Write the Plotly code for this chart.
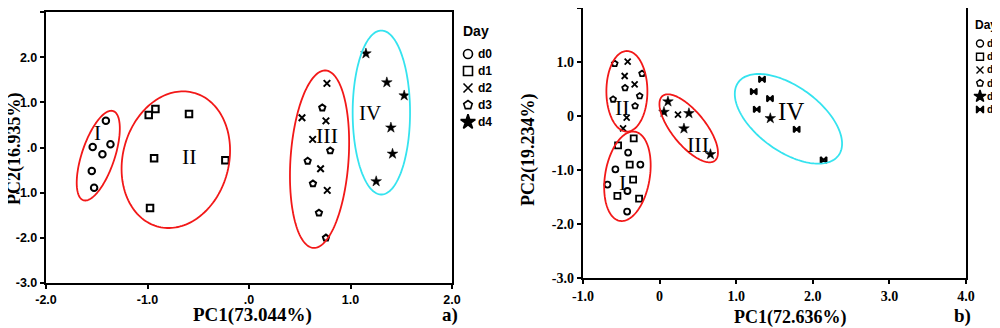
import numpy as np
import plotly.graph_objects as go

# page is rendered with an 8px body margin, so the figure is offset by (8, 8)
PAGE_W, PAGE_H = 1000, 328
OX, OY = 8, 8
W, H = PAGE_W - OX, PAGE_H - OY

# ---------------- Panel a data ----------------
A_D0_X = [-1.41, -1.54, -1.365, -1.444, -1.549, -1.526]
A_D0_Y = [0.59, 0.01, 0.07, -0.15, -0.52, -0.89]
A_D1_X = [-0.988, -0.922, -0.591, -0.935, -0.233, -0.975]
A_D1_Y = [0.72, 0.85, 0.74, -0.24, -0.28, -1.34]
A_D2_X = [0.768, 0.522, 0.758, 0.627, 0.705, 0.771]
A_D2_Y = [1.42, 0.66, 0.59, 0.18, -0.47, -0.95]
A_D3_X = [0.722, 0.80, 0.578, 0.63, 0.689, 0.758]
A_D3_Y = [0.88, -0.07, -0.30, -0.80, -1.45, -2.0]
A_D4_X = [1.152, 1.358, 1.529, 1.398, 1.414, 1.253]
A_D4_Y = [2.08, 1.44, 1.15, 0.44, -0.14, -0.75]

A_XTICKS = [-2, -1, 0, 1, 2]
A_XTICKTEXT = ["-2.0", "-1.0", ".0", "1.0", "2.0"]
A_YTICKS = [-3, -2, -1, 0, 1, 2, 3]
A_YTICKTEXT = ["-3.0", "-2.0", "-1.0", ".0", "1.0", "2.0", "3.0"]

# ---------------- Panel b data ----------------
B_D0_X = [-0.411, -0.251, -0.577, -0.681, -0.42, -0.424]
B_D0_Y = [-0.678, -0.90, -0.987, -1.27, -1.389, -1.77]
B_D1_X = [-0.338, -0.542, -0.39, -0.346, -0.551, -0.268]
B_D1_Y = [-0.413, -0.543, -0.90, -1.178, -1.48, -1.53]
B_D2_X = [-0.417, -0.456, -0.326, -0.43, -0.477, 0.24]
B_D2_Y = [1.007, 0.741, 0.587, -0.03, -0.228, 0.026]
B_D3_X = [-0.586, -0.229, -0.451, -0.607, -0.26, -0.32]
B_D3_Y = [0.97, 0.785, 0.519, 0.309, 0.37, 0.185]
B_D4_X = [0.109, 0.057, 0.383, 0.318, 0.664, 1.445]
B_D4_Y = [0.267, 0.074, 0.05, -0.233, -0.709, -0.043]
B_D5_X = [1.337, 1.229, 1.441, 1.268, 1.789, 2.141]
B_D5_Y = [0.68, 0.452, 0.322, 0.124, -0.246, -0.815]

B_XTICKS = [-1, 0, 1, 2, 3, 4]
B_XTICKTEXT = ["-1.0", "0", "1.0", "2.0", "3.0", "4.0"]
B_YTICKS = [-3, -2, -1, 0, 1, 2]
B_YTICKTEXT = ["-3.0", "-2.0", "-1.0", "0", "1.0", "2.0"]

DAYS_A = ["d0", "d1", "d2", "d3", "d4"]
DAYS_B = ["d0", "d1", "d2", "d3", "d4", "d5"]

# cluster ellipses: (label, cx, cy, semi-major px, semi-minor px, angle deg, colour)
A_CLUSTERS = [("I", -1.485, -0.18, 47.0, 16.4, 71.5, "red"),
              ("II", -0.721, -0.27, 69.3, 53.0, 75.0, "red"),
              ("III", 0.695, -0.259, 88.9, 29.0, 86.0, "red"),
              ("IV", 1.304, 0.774, 82.0, 28.7, 90.0, "cyan")]
A_LABELS = [("I", -1.49, 0.31, 21), ("II", -0.59, -0.21, 22),
            ("III", 0.768, 0.27, 22), ("IV", 1.194, 0.77, 21)]

B_CLUSTERS = [("II", -0.427, 0.457, 40.3, 20.5, 90.0, "red"),
              ("I", -0.42, -1.117, 45.2, 22.3, 80.4, "red"),
              ("III", 0.38, -0.228, 41.6, 16.8, -51.0, "red"),
              ("IV", 1.682, -0.052, 62.0, 32.3, -36.0, "cyan")]
B_LABELS = [("II", -0.49, 0.155, 22), ("I", -0.49, -1.23, 22),
            ("III", 0.50, -0.52, 22), ("IV", 1.715, 0.09, 25)]

RED = "#f21818"
CYAN = "#35e3ef"

# ---------------- layout geometry (page pixels) ----------------
AX_A = dict(x=[46, 452], y=[12, 283], xr=[-2, 2], yr=[-3, 3])
AX_B = dict(x=[583, 966], y=[8, 278], xr=[-1, 4], yr=[-3, 2])


def PX(x):
    return min(1.0, max(0.0, (x - OX) / W))


def PY(y):
    return min(1.0, max(0.0, 1 - (y - OY) / H))


def dom_x(p):
    return [PX(p[0]), PX(p[1])]


def dom_y(p):
    return [PY(p[1]), PY(p[0])]


def scale(ax):
    sx = (ax["x"][1] - ax["x"][0]) / (ax["xr"][1] - ax["xr"][0])
    sy = (ax["y"][1] - ax["y"][0]) / (ax["yr"][1] - ax["yr"][0])
    return sx, sy


def ellipse_path(cx, cy, a, b, ang, sx, sy, n=160):
    t = np.linspace(0, 2 * np.pi, n)
    ph = np.radians(ang)
    u = a * np.cos(t) * np.cos(ph) - b * np.sin(t) * np.sin(ph)
    v = a * np.cos(t) * np.sin(ph) + b * np.sin(t) * np.cos(ph)
    xs = cx + u / sx
    ys = cy + v / sy
    return "M " + " L ".join(f"{x:.4f},{y:.4f}" for x, y in zip(xs, ys)) + " Z"


fig = go.Figure()

SYM = {"d0": "circle-open", "d1": "square-open", "d2": "x-thin-open",
       "d3": "pentagon-open", "d4": "star", "d5": "bowtie"}


def add_series(xs, ys, day, xa, ya, size, lw, star_extra):
    s = size + star_extra if day == "d4" else size
    fig.add_trace(go.Scatter(
        x=xs, y=ys, mode="markers", xaxis=xa, yaxis=ya, showlegend=False,
        name=day,
        marker=dict(symbol=SYM[day], size=s, color="black",
                    line=dict(color="black", width=lw if day != "d4" else 0.5))))


A_SERIES = [(A_D0_X, A_D0_Y, "d0"), (A_D1_X, A_D1_Y, "d1"), (A_D2_X, A_D2_Y, "d2"),
            (A_D3_X, A_D3_Y, "d3"), (A_D4_X, A_D4_Y, "d4")]
B_SERIES = [(B_D0_X, B_D0_Y, "d0"), (B_D1_X, B_D1_Y, "d1"), (B_D2_X, B_D2_Y, "d2"),
            (B_D3_X, B_D3_Y, "d3"), (B_D4_X, B_D4_Y, "d4"), (B_D5_X, B_D5_Y, "d5")]

for xs, ys, d in A_SERIES:
    add_series(xs, ys, d, "x", "y", 6.5, 2, 1.5)
for xs, ys, d in B_SERIES:
    add_series(xs, ys, d, "x2", "y2", 6, 1.8, 2)

# legends (drawn in a transparent pixel overlay axis)
LEG_A = dict(title=(476, 31), sx=468, tx=476, y0=54, dy=17, size=9, lw=1.6, fs=12, tfs=14)
LEG_B = dict(title=(986, 25), sx=980, tx=985, y0=43.5, dy=13.2, size=7, lw=1.4, fs=10, tfs=12)


def add_legend(days, L):
    ys = [L["y0"] + i * L["dy"] for i in range(len(days))]
    for d, yy in zip(days, ys):
        s = L["size"] + (2 if d == "d4" else 0)
        fig.add_trace(go.Scatter(
            x=[L["sx"]], y=[yy], mode="markers", xaxis="x3", yaxis="y3",
            showlegend=False, hoverinfo="skip",
            marker=dict(symbol=SYM[d], size=s, color="black",
                        line=dict(color="black", width=L["lw"]))))
        fig.add_annotation(x=PX(L["tx"]), y=PY(yy), xref="paper", yref="paper",
                           text=f"<b>{d}</b>", showarrow=False, xanchor="left",
                           yanchor="middle",
                           font=dict(family="Liberation Sans", size=L["fs"], color="black"))
    fig.add_annotation(x=PX(L["title"][0]), y=PY(L["title"][1]), xref="paper", yref="paper",
                       text="<b>Day</b>", showarrow=False, xanchor="center", yanchor="middle",
                       font=dict(family="Liberation Sans", size=L["tfs"], color="black"))


add_legend(DAYS_A, LEG_A)
add_legend(DAYS_B, LEG_B)

# ellipses
shapes = []
sxa, sya = scale(AX_A)
for lab, cx, cy, a, b, ang, col in A_CLUSTERS:
    shapes.append(dict(type="path", xref="x", yref="y",
                       path=ellipse_path(cx, cy, a, b, ang, sxa, sya),
                       line=dict(color=RED if col == "red" else CYAN, width=1.8)))
sxb, syb = scale(AX_B)
for lab, cx, cy, a, b, ang, col in B_CLUSTERS:
    shapes.append(dict(type="path", xref="x2", yref="y2",
                       path=ellipse_path(cx, cy, a, b, ang, sxb, syb),
                       line=dict(color=RED if col == "red" else CYAN, width=1.8)))

# cluster labels
for lab, x, y, fs in A_LABELS:
    fig.add_annotation(x=x, y=y, xref="x", yref="y", text=lab, showarrow=False,
                       font=dict(family="Liberation Serif", size=fs, color="black"))
for lab, x, y, fs in B_LABELS:
    fig.add_annotation(x=x, y=y, xref="x2", yref="y2", text=lab, showarrow=False,
                       font=dict(family="Liberation Serif", size=fs, color="black"))

# axis titles and panel letters
TITLES = [("PC1(73.044%)", 252, 315, 0, 19), ("PC2(16.935%)", 14, 149, -90, 18),
          ("PC1(72.636%)", 789.5, 317, 0, 18), ("PC2(19.234%)", 528, 150, -90, 18),
          ("a)", 450, 315, 0, 19), ("b)", 962, 316, 0, 19)]
for txt, px, py, ang, fs in TITLES:
    fig.add_annotation(x=PX(px), y=PY(py), xref="paper", yref="paper",
                       text=f"<b>{txt}</b>", showarrow=False, textangle=ang,
                       xanchor="center", yanchor="middle", borderpad=0,
                       font=dict(family="Liberation Serif", size=fs, color="black"))

common = dict(showline=True, mirror=True, linecolor="black", linewidth=2.4,
              ticks="outside", ticklen=4, tickwidth=2, tickcolor="black",
              showgrid=False, zeroline=False, automargin=False)
fa = dict(family="Liberation Sans", size=12.5, color="black")
fb = dict(family="Liberation Serif", size=14, color="black")

fig.update_layout(
    template="none",
    width=W, height=H, margin=dict(l=0, r=0, t=0, b=0, pad=0, autoexpand=False),
    paper_bgcolor="white", plot_bgcolor="rgba(0,0,0,0)", showlegend=False,
    shapes=shapes,
    xaxis=dict(domain=dom_x(AX_A["x"]), range=AX_A["xr"], anchor="y",
               tickvals=A_XTICKS, ticktext=[f"<b>{t}</b>" for t in A_XTICKTEXT],
               tickfont=fa, **common),
    yaxis=dict(domain=dom_y(AX_A["y"]), range=AX_A["yr"], anchor="x",
               tickvals=A_YTICKS, ticktext=[f"<b>{t}</b>" for t in A_YTICKTEXT],
               tickfont=fa, **common),
    xaxis2=dict(domain=dom_x(AX_B["x"]), range=AX_B["xr"], anchor="y2",
                tickvals=B_XTICKS, ticktext=[f"<b>{t}</b>" for t in B_XTICKTEXT],
                tickfont=fb, **common),
    yaxis2=dict(domain=dom_y(AX_B["y"]), range=AX_B["yr"], anchor="x2",
                tickvals=B_YTICKS, ticktext=[f"<b>{t}</b>" for t in B_YTICKTEXT],
                tickfont=fb, **common),
    xaxis3=dict(domain=[0, 1], range=[OX, PAGE_W], visible=False, anchor="y3",
                fixedrange=True, automargin=False),
    yaxis3=dict(domain=[0, 1], range=[PAGE_H, OY], visible=False, anchor="x3",
                fixedrange=True, automargin=False),
)

fig.write_html("out.html")
